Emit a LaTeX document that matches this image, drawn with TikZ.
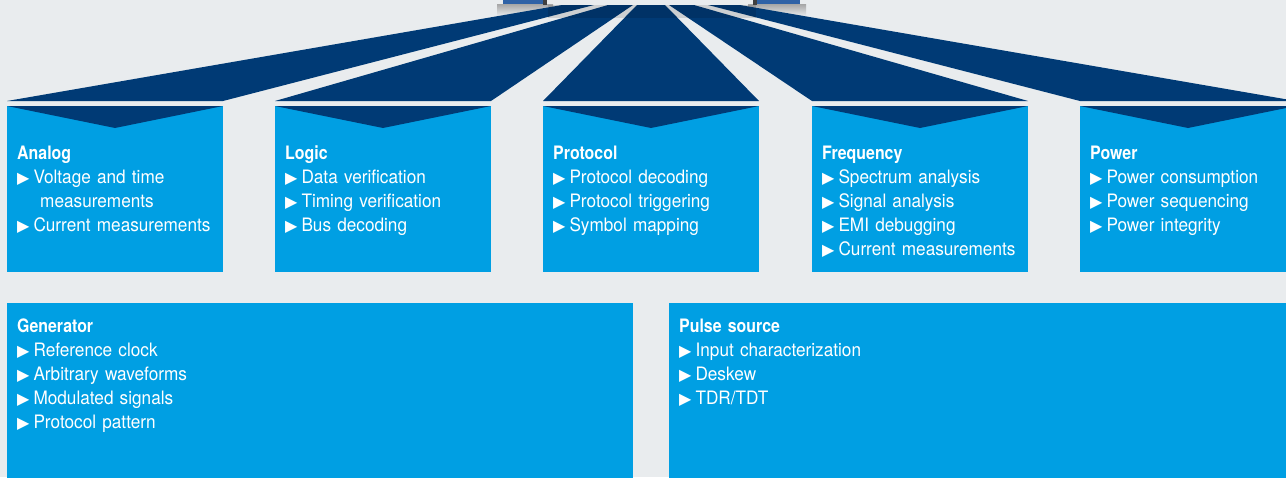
\documentclass[tikz,border=0pt]{standalone}
\usepackage{fontspec}
\setmainfont{TeX Gyre Heros}[FakeStretch=0.93,BoldFeatures={FakeStretch=0.86}]
\newfontfamily\symfont{DejaVu Sans}
\usetikzlibrary{positioning}
\definecolor{bgray}{HTML}{E9ECEE}
\definecolor{navy}{HTML}{003A75}
\definecolor{skyblue}{HTML}{009FE3}
\definecolor{devblue}{HTML}{2F62A6}
\newcommand\itm{{\symfont\fontsize{16}{16}\selectfont ▶}\hspace{4pt}}
\tikzset{
    panel/.style={
        fill=skyblue,
        anchor=north west,
        minimum width=216pt,
        minimum height=166pt,
        inner sep=0pt,
        outer sep=0pt
    },
    widepanel/.style={
        panel,
        minimum width=626pt,
        minimum height=180pt
    },
    beam/.style={
        fill=navy
    },
    chevron/.style={
        fill=navy
    },
    paneltext/.style={
        anchor=base west,
        align=left,
        text width=205pt,
        text=white,
        inner sep=0pt,
        font=\fontsize{18.5}{24}\selectfont
    }
}

\begin{document}
\begin{tikzpicture}[x=1pt,y=-1pt]
\clip (0,0) rectangle (1286,477);
\fill[bgray] (0,0) rectangle (1286,477);

% shadows under the two instruments
\shade[top color=gray!70,bottom color=bgray] (497,4) rectangle (553,16);
\shade[top color=gray!70,bottom color=bgray] (748,4) rectangle (806,16);

% panels of the upper row
\node[panel] (analog) at (7,106) {};
\node[panel,right=52pt of analog] (logic) {};
\node[panel,right=52pt of logic] (protocol) {};
\node[panel,right=53pt of protocol] (frequency) {};
\node[panel,right=52pt of frequency] (power) {};

% panels of the lower row
\node[widepanel] (generator) at (7,303) {};
\node[widepanel,right=36pt of generator] (pulse) {};

% beams from the instruments to the panels
\coordinate (analogtl) at (562,5);    \coordinate (analogtr) at (594,5);
\coordinate (logictl) at (608,5);     \coordinate (logictr) at (633,5);
\coordinate (protocoltl) at (637,5);  \coordinate (protocoltr) at (665,5);
\coordinate (frequencytl) at (669,5); \coordinate (frequencytr) at (694,5);
\coordinate (powertl) at (708,5);     \coordinate (powertr) at (740,5);
\foreach \p in {analog,logic,protocol,frequency,power}{
    \fill[beam] ([yshift=5pt]\p.north west) -- (\p tl) -- (\p tr)
        -- ([yshift=5pt]\p.north east) -- cycle;
    \fill[chevron] (\p.north west) -- ([yshift=-22pt]\p.north)
        -- (\p.north east) -- cycle;
}
\fill[black,opacity=.12] (548,5) rectangle (756,18);

% instruments
\fill[devblue] (503,0) rectangle (543,4);
\fill[black!75] (543,0) rectangle (547,5);
\fill[black!75] (753,0) rectangle (757,5);
\fill[devblue] (757,0) rectangle (800,4);

% texts
\node[paneltext] (analogtxt) at ([shift={(10,53)}]analog.north west)
    {\textbf{Analog}\\\itm Voltage and time\\\hspace*{23pt}measurements\\\itm Current measurements};
\node[paneltext] (logictxt) at ([shift={(10,53)}]logic.north west)
    {\textbf{Logic}\\\itm Data verification\\\itm Timing verification\\\itm Bus decoding};
\node[paneltext] (protocoltxt) at ([shift={(10,53)}]protocol.north west)
    {\textbf{Protocol}\\\itm Protocol decoding\\\itm Protocol triggering\\\itm Symbol mapping};
\node[paneltext] (frequencytxt) at ([shift={(10,53)}]frequency.north west)
    {\textbf{Frequency}\\\itm Spectrum analysis\\\itm Signal analysis\\\itm EMI debugging\\\itm Current measurements};
\node[paneltext] (powertxt) at ([shift={(10,53)}]power.north west)
    {\textbf{Power}\\\itm Power consumption\\\itm Power sequencing\\\itm Power integrity};
\node[paneltext] (generatortxt) at ([shift={(10,29)}]generator.north west)
    {\textbf{Generator}\\\itm Reference clock\\\itm Arbitrary waveforms\\\itm Modulated signals\\\itm Protocol pattern};
\node[paneltext] (pulsetxt) at ([shift={(10,29)}]pulse.north west)
    {\textbf{Pulse source}\\\itm Input characterization\\\itm Deskew\\\itm TDR/TDT};
\end{tikzpicture}
\end{document}
